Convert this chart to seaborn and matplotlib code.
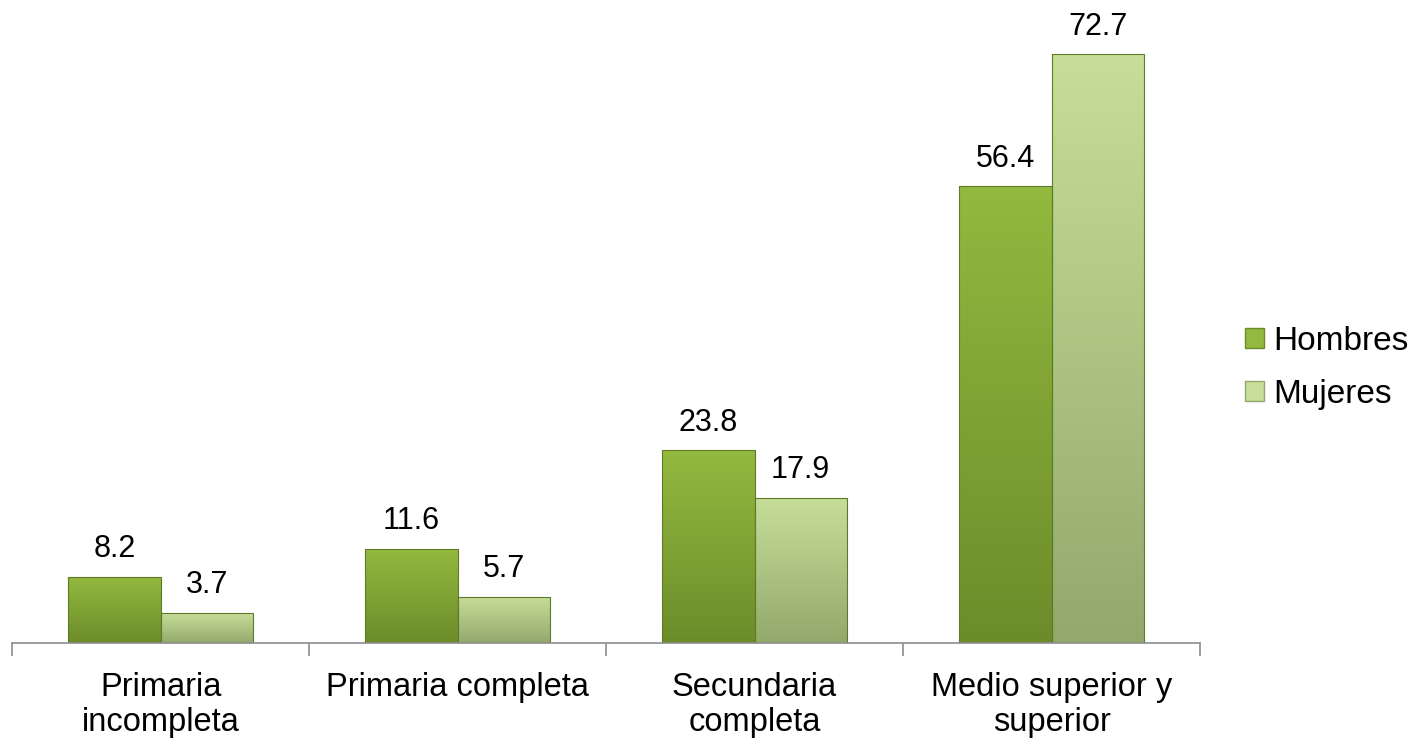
import numpy as np
import pandas as pd
import matplotlib
matplotlib.use("Agg")
import matplotlib.pyplot as plt
import seaborn as sns
from matplotlib.colors import LinearSegmentedColormap
from matplotlib.patches import Patch

# Datos del gráfico
categorias = ["Primaria\nincompleta", "Primaria completa", "Secundaria\ncompleta", "Medio superior y\nsuperior"]
hombres = [8.2, 11.6, 23.8, 56.4]
mujeres = [3.7, 5.7, 17.9, 72.7]
series = ["Hombres", "Mujeres"]

df = pd.DataFrame({
    "Nivel": categorias * 2,
    "Sexo": [series[0]] * 4 + [series[1]] * 4,
    "Valor": hombres + mujeres,
})

sns.set_style("white")
plt.rcParams["font.family"] = ["Liberation Sans", "DejaVu Sans"]
plt.rcParams["text.color"] = "black"
plt.rcParams["xtick.color"] = "black"

# colores (abajo, arriba) del degradado
colores = {"Hombres": ("#6c8c2a", "#93b93f"), "Mujeres": ("#93a96c", "#c7de9a")}

fig = plt.figure(figsize=(14.2, 7.44), dpi=100)
ax = fig.add_axes([0.0085, 0.1358, 0.8366, 0.8602])

sns.barplot(data=df, x="Nivel", y="Valor", hue="Sexo", order=categorias,
            palette={k: v[1] for k, v in colores.items()}, width=0.62,
            saturation=1, ax=ax, legend=False)

# degradado vertical dentro de cada barra
for cont, nombre in zip(ax.containers, series):
    cmap = LinearSegmentedColormap.from_list(nombre, colores[nombre])
    for bar in cont:
        x0, y0 = bar.get_xy()
        w, h = bar.get_width(), bar.get_height()
        grad = np.linspace(0, 1, 256).reshape(-1, 1)
        im = ax.imshow(grad, extent=[x0, x0 + w, y0, y0 + h], origin="lower",
                       aspect="auto", cmap=cmap, zorder=1)
        im.set_clip_path(bar)
        bar.set_facecolor("none")
        bar.set_edgecolor("#5f7a26")
        bar.set_linewidth(0.8)
        bar.set_zorder(2)
    ax.bar_label(cont, fmt="%.1f", padding=9, fontsize=22, color="black")

ax.set_ylim(0, 79)
ax.set_xlim(-0.5, 3.5)

# ejes
for s in ["top", "right", "left"]:
    ax.spines[s].set_visible(False)
ax.spines["bottom"].set_color("#8c8c8c")
ax.spines["bottom"].set_linewidth(1.2)
ax.set_yticks([])
ax.set_xticks(np.arange(-0.5, 4, 1))
ax.set_xticklabels([])
ax.tick_params(axis="x", which="major", bottom=True, length=9, color="#8c8c8c", width=1.2)
ax.set_xticks(np.arange(4), minor=True)
ax.set_xticklabels(categorias, minor=True, fontsize=23.5, linespacing=1.15)
ax.tick_params(axis="x", which="minor", bottom=True, length=0, pad=21, labelcolor="black")
ax.set_xlabel("")
ax.set_ylabel("")

handles = [Patch(facecolor=colores[s][1], edgecolor=colores[s][0], label=s) for s in series]
ax.legend(handles=handles, loc="center left", bbox_to_anchor=(1.038, 0.43),
          frameon=False, fontsize=24, handlelength=0.55, handleheight=0.55,
          handletextpad=0.3, labelspacing=0.65, borderpad=0, borderaxespad=0)

fig.savefig("out.png", dpi=100)
